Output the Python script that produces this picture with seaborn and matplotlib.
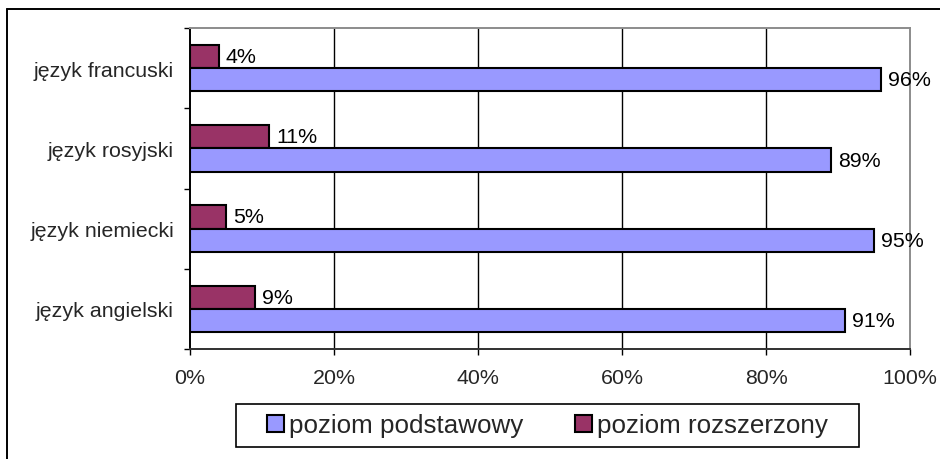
import matplotlib
matplotlib.use("Agg")
import matplotlib.pyplot as plt
import pandas as pd
import seaborn as sns
from matplotlib.lines import Line2D
from matplotlib.patches import Patch, Rectangle

# data (top to bottom)
languages = ["język francuski", "język rosyjski", "język niemiecki", "język angielski"]
basic = [96, 89, 95, 91]      # poziom podstawowy
extended = [4, 11, 5, 9]      # poziom rozszerzony
level_names = ["poziom podstawowy", "poziom rozszerzony"]
level_colors = ["#9999FF", "#993366"]
x_ticks = [0, 20, 40, 60, 80, 100]

df = pd.DataFrame({
    "jezyk": languages * 2,
    "poziom": [level_names[1]] * len(languages) + [level_names[0]] * len(languages),
    "procent": extended + basic,
})

sns.set_style("white")
plt.rcParams["font.family"] = ["Liberation Sans", "DejaVu Sans"]

W, H = 940, 460
fig = plt.figure(figsize=(9.4, 4.6), dpi=100)
ax = fig.add_axes([190 / W, 1 - 350 / H, 720 / W, 321 / H])

# red bar above blue bar within each category
hue_order = [level_names[1], level_names[0]]
palette = {level_names[0]: level_colors[0], level_names[1]: level_colors[1]}
sns.barplot(data=df, y="jezyk", x="procent", hue="poziom", hue_order=hue_order,
            order=languages, orient="h", palette=palette, width=0.58, gap=0,
            edgecolor="black", linewidth=1.5, saturation=1, legend=False, ax=ax)

fs = 15.4
for cont in ax.containers:
    ax.bar_label(cont, labels=[f"{v:.0f}%" for v in cont.datavalues],
                 padding=5, fontsize=fs, color="black")

ax.set_xlim(0, 100)
ax.set_xticks(x_ticks)
ax.set_xticklabels([f"{t}%" for t in x_ticks])
ax.set_xlabel("")
ax.set_ylabel("")
ax.set_ylim(3.5, -0.5)

for t in x_ticks[1:-1]:
    ax.axvline(t, color="black", lw=1.0, zorder=0)

ax.set_yticks([i - 0.5 for i in range(len(languages) + 1)], minor=True)
ax.tick_params(axis="y", which="major", length=0, pad=11.5, labelsize=fs)
ax.tick_params(axis="y", which="minor", left=True, length=4.5, width=1.0,
               color="black", direction="out")
ax.tick_params(axis="x", which="major", bottom=True, length=4, width=1.0,
               color="black", direction="out", pad=10, labelsize=fs)

ax.spines["left"].set_color("black")
ax.spines["bottom"].set_color("#303030")
ax.spines["top"].set_color("#8c8c8c")
ax.spines["right"].set_color("#8c8c8c")
for s in ax.spines.values():
    s.set_linewidth(1.4)

# outer chart frame
fig.add_artist(Line2D([7 / W, 7 / W], [1 - 10 / H, 0], transform=fig.transFigure,
                      color="black", lw=1.4))
fig.add_artist(Line2D([7 / W, 1], [1 - 10 / H, 1 - 10 / H], transform=fig.transFigure,
                      color="black", lw=1.4))

# legend frame and legend
fig.add_artist(Rectangle((236 / W, 1 - 448 / H), 623 / W, 43 / H,
                         transform=fig.transFigure, fill=False,
                         edgecolor="black", lw=1.2))
handles = [Patch(facecolor=c, edgecolor="black", lw=1.5) for c in level_colors]
fig.legend(handles, level_names, loc="center", ncol=2,
           bbox_to_anchor=(547.5 / W, 1 - 426.5 / H), frameon=False,
           fontsize=18.7, handlelength=0.65, handleheight=0.65,
           handletextpad=0.2, columnspacing=2.0, borderpad=0)

fig.savefig("out.png", dpi=100, facecolor="white")
